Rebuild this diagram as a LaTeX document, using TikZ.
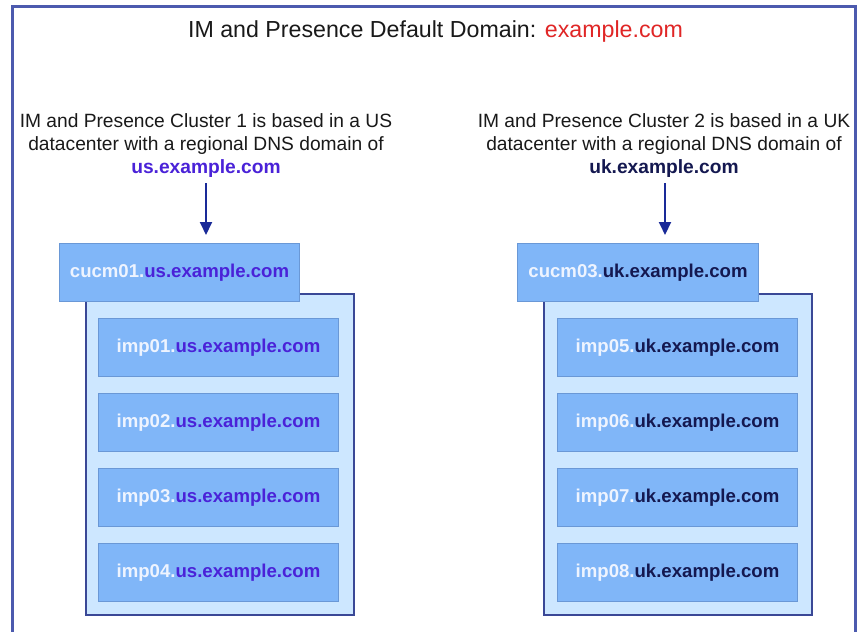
\documentclass[tikz,border=0pt]{standalone}
\usepackage{fontspec}
\setmainfont{Liberation Sans}
\usetikzlibrary{arrows.meta}
\definecolor{framec}{HTML}{4C5AAE}
\definecolor{contfill}{HTML}{CDE7FF}
\definecolor{contdraw}{HTML}{3A4896}
\definecolor{boxfill}{HTML}{80B6F8}
\definecolor{boxdraw}{HTML}{6A98D6}
\definecolor{pref}{HTML}{EEF4FF}
\definecolor{usc}{HTML}{4A22D8}
\definecolor{ukc}{HTML}{141850}
\definecolor{redc}{HTML}{E02626}
\definecolor{arrc}{HTML}{1A2A98}
\begin{document}
\begin{tikzpicture}[x=1pt,y=-1pt,
  container/.style={draw=contdraw,fill=contfill,line width=2pt,minimum width=268pt,minimum height=321pt,inner sep=0pt,anchor=north west},
  hostbox/.style={draw=boxdraw,fill=boxfill,line width=1pt,minimum width=240pt,minimum height=58pt,inner sep=0pt,anchor=north west,font=\bfseries\fontsize{18.6}{22}\selectfont},
  para/.style={align=center,inner sep=0pt,anchor=north,font=\fontsize{19.2}{23}\selectfont,text=black!90},
  arr/.style={draw=arrc,line width=2pt,-{Triangle[width=12pt,length=13pt]}}
]
\useasboundingbox (0,0) rectangle (858,631);
\fill[white] (0,0) rectangle (858,631);
% frame
\draw[framec,line width=3pt] (12,640) -- (12,7) -- (855,7) -- (855,640);
% title
\node[anchor=base,inner sep=0pt,font=\fontsize{23.2}{28}\selectfont,text=black!90] (title) at (435.5,38) {IM and Presence Default Domain: \textcolor{redc}{example.com}};
% paragraphs
\node[para] (p1) at (206,113) {IM and Presence Cluster 1 is based in a US\\datacenter with a regional DNS domain of\\\textcolor{usc}{\bfseries us.example.com}};
\node[para] (p2) at (664,113) {IM and Presence Cluster 2 is based in a UK\\datacenter with a regional DNS domain of\\\textcolor{ukc}{\bfseries uk.example.com}};
% left cluster
\node[container] (c1) at (85,293) {};
\node[hostbox] (cucm1) at (59,243) {\textcolor{pref}{cucm01.}\textcolor{usc}{us.example.com}};
\node[hostbox] (imp1) at (98,318) {\textcolor{pref}{imp01.}\textcolor{usc}{us.example.com}};
\node[hostbox] (imp2) at (98,393) {\textcolor{pref}{imp02.}\textcolor{usc}{us.example.com}};
\node[hostbox] (imp3) at (98,468) {\textcolor{pref}{imp03.}\textcolor{usc}{us.example.com}};
\node[hostbox] (imp4) at (98,543) {\textcolor{pref}{imp04.}\textcolor{usc}{us.example.com}};
% right cluster
\node[container] (c2) at (543,293) {};
\node[hostbox,minimum width=241pt] (cucm3) at (517,243) {\textcolor{pref}{cucm03.}\textcolor{ukc}{uk.example.com}};
\node[hostbox] (imp5) at (557,318) {\textcolor{pref}{imp05.}\textcolor{ukc}{uk.example.com}};
\node[hostbox] (imp6) at (557,393) {\textcolor{pref}{imp06.}\textcolor{ukc}{uk.example.com}};
\node[hostbox] (imp7) at (557,468) {\textcolor{pref}{imp07.}\textcolor{ukc}{uk.example.com}};
\node[hostbox] (imp8) at (557,543) {\textcolor{pref}{imp08.}\textcolor{ukc}{uk.example.com}};
% arrows
\coordinate (a1s) at (206,183);
\coordinate (a1e) at (206,235);
\coordinate (a2s) at (665,183);
\coordinate (a2e) at (665,235);
\draw[arr] (a1s) -- (a1e);
\draw[arr] (a2s) -- (a2e);
\end{tikzpicture}
\end{document}
